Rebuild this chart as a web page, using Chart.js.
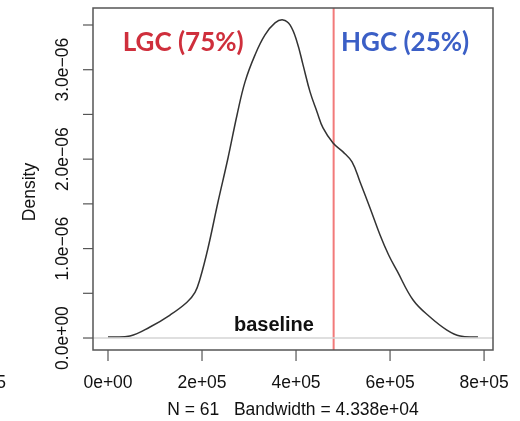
<!DOCTYPE html>
<html lang="en">
<head>
  <meta charset="UTF-8" />
  <title>Density</title>
  <style>
    body { margin: 0; background: #fff; }
    #wrap { width: 520px; height: 421px; }
  </style>
</head>
<body>
  <div id="wrap"><canvas id="chart" width="520" height="421"></canvas></div>

  <script src="https://cdn.jsdelivr.net/npm/chart.js"></script>
  <script>
    // density estimate
    const densX = [0, 46800, 89400, 132000, 168000, 185100, 195700, 212800, 234000, 255300, 274500, 291500, 312800, 334000, 355300, 372300, 387200, 402100, 414900, 429800, 444700, 457400, 478700, 500000, 519100, 536200, 557400, 578700, 597000, 615000, 649000, 685000, 721000, 749000, 787000];
    const densY = [0.011e-6, 0.022e-6, 0.123e-6, 0.257e-6, 0.40e-6, 0.51e-6, 0.66e-6, 1.007e-6, 1.521e-6, 2.013e-6, 2.494e-6, 2.864e-6, 3.166e-6, 3.389e-6, 3.523e-6, 3.557e-6, 3.501e-6, 3.311e-6, 3.054e-6, 2.752e-6, 2.528e-6, 2.349e-6, 2.181e-6, 2.081e-6, 1.969e-6, 1.745e-6, 1.454e-6, 1.152e-6, 0.928e-6, 0.75e-6, 0.425e-6, 0.235e-6, 0.089e-6, 0.022e-6, 0.011e-6];

    const cutoff = 480000;

    const xTicks = [0, 200000, 400000, 600000, 800000];
    const xTickLabels = ['0e+00', '2e+05', '4e+05', '6e+05', '8e+05'];
    const yTicks = [0, 0.5e-6, 1.0e-6, 1.5e-6, 2.0e-6, 2.5e-6, 3.0e-6, 3.5e-6];
    const yTickLabels = ['0.0e+00', '', '1.0e\u221206', '', '2.0e\u221206', '', '3.0e\u221206', ''];

    const xTitle = 'N = 61   Bandwidth = 4.338e+04';
    const yTitle = 'Density';

    const notes = [
      { text: 'LGC (75%)', x: 160000, y: 3.30e-6, color: '#cf2f3c', font: 'bold 26px Lato, "Open Sans", sans-serif' },
      { text: 'HGC (25%)', x: 632000, y: 3.30e-6, color: '#3b5fc6', font: 'bold 26px Lato, "Open Sans", sans-serif' },
      { text: 'baseline', x: 353000, y: 0.145e-6, color: '#111', font: 'bold 20px "Liberation Sans", Arial, sans-serif' }
    ];

    const tickFont = '17.5px "Liberation Sans", Arial, sans-serif';

    const rFrame = {
      id: 'rFrame',
      afterDatasetsDraw(chart) {
        const { ctx, chartArea: a, scales: { x, y } } = chart;
        ctx.save();
        // box
        ctx.strokeStyle = '#555';
        ctx.lineWidth = 1.5;
        ctx.strokeRect(a.left, a.top, a.right - a.left, a.bottom - a.top);

        ctx.fillStyle = '#111';
        ctx.font = tickFont;
        ctx.lineWidth = 1.2;

        // x ticks
        ctx.textAlign = 'center';
        ctx.textBaseline = 'middle';
        xTicks.forEach((v, i) => {
          const px = x.getPixelForValue(v);
          ctx.beginPath();
          ctx.moveTo(px, a.bottom);
          ctx.lineTo(px, a.bottom + 11);
          ctx.stroke();
          ctx.fillText(xTickLabels[i], px, a.bottom + 33);
        });

        // y ticks, labels rotated like R
        yTicks.forEach((v, i) => {
          const py = y.getPixelForValue(v);
          ctx.beginPath();
          ctx.moveTo(a.left, py);
          ctx.lineTo(a.left - 10, py);
          ctx.stroke();
          if (yTickLabels[i]) {
            ctx.save();
            ctx.translate(a.left - 30, py);
            ctx.rotate(-Math.PI / 2);
            ctx.fillText(yTickLabels[i], 0, 0);
            ctx.restore();
          }
        });

        // titles
        ctx.fillText(xTitle, (a.left + a.right) / 2, a.bottom + 60);
        ctx.save();
        ctx.translate(30, 192);
        ctx.rotate(-Math.PI / 2);
        ctx.fillText(yTitle, 0, 0);
        ctx.restore();

        // stray label from the neighbouring panel
        ctx.textAlign = 'right';
        ctx.fillText('5', 6, a.bottom + 33);

        // annotations
        ctx.textAlign = 'center';
        notes.forEach(n => {
          ctx.font = n.font;
          ctx.fillStyle = n.color;
          ctx.fillText(n.text, x.getPixelForValue(n.x), y.getPixelForValue(n.y));
        });
        ctx.restore();
      }
    };

    new Chart(document.getElementById('chart'), {
      type: 'line',
      data: {
        datasets: [
          {
            label: 'baseline',
            data: [{ x: -100000, y: 0 }, { x: 1000000, y: 0 }],
            borderColor: '#d4d4d4',
            borderWidth: 1.5,
            pointRadius: 0
          },
          {
            label: 'density',
            data: densX.map((v, i) => ({ x: v, y: densY[i] })),
            borderColor: '#333',
            borderWidth: 1.5,
            pointRadius: 0,
            tension: 0.4
          },
          {
            label: 'cutoff',
            data: [{ x: cutoff, y: -1e-6 }, { x: cutoff, y: 5e-6 }],
            borderColor: '#f27a7a',
            borderWidth: 2,
            pointRadius: 0
          }
        ]
      },
      options: {
        responsive: false,
        animation: false,
        layout: { padding: { left: 93, top: 8, right: 27, bottom: 71 } },
        plugins: { legend: { display: false }, tooltip: { enabled: false } },
        scales: {
          x: { type: 'linear', min: -31900, max: 819000, display: false },
          y: { type: 'linear', min: -1.34e-7, max: 3.69e-6, display: false }
        }
      },
      plugins: [rFrame]
    });
  </script>
</body>
</html>
